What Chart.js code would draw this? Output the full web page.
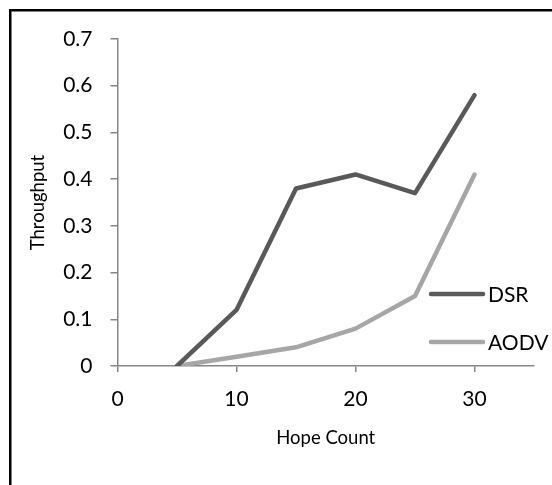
<!DOCTYPE html>
<html>
<head>
<meta charset="utf-8">
<script src="https://cdn.jsdelivr.net/npm/chart.js@4"></script>
<style>
  html, body { margin: 0; padding: 0; background: #fff; }
  #wrap { width: 552px; height: 485px; position: relative; }
</style>
</head>
<body>
<div id="wrap"><canvas id="chart" width="552" height="485"></canvas></div>
<script>
// ===== data =====
const hopCounts = [5, 10, 15, 20, 25, 30];
const dsrThroughput = [0, 0.12, 0.38, 0.41, 0.37, 0.58];
const aodvThroughput = [0, 0.02, 0.04, 0.08, 0.15, 0.41];
const seriesNames = ['DSR', 'AODV'];
const seriesColors = ['#595959', '#a6a6a6'];
const xTicks = [0, 10, 20, 30];

const FONT = 'Lato, "Open Sans", sans-serif';
const AXIS = '#868686';

function toPoints(ys) {
    return hopCounts.map((x, i) => ({ x: x, y: ys[i] }));
}

// frame (top + left only) and the legend sitting inside the plot
const decorPlugin = {
    id: 'decor',
    beforeDraw(chart) {
        const ctx = chart.ctx;
        ctx.save();
        ctx.fillStyle = '#000';
        ctx.fillRect(9, 9, 552 - 9, 2.5);
        ctx.fillRect(9, 9, 2.5, 485 - 9);
        ctx.restore();
    },
    afterDraw(chart) {
        const ctx = chart.ctx;
        const rows = [294, 342];
        ctx.save();
        seriesNames.forEach((name, i) => {
            ctx.strokeStyle = seriesColors[i];
            ctx.lineWidth = 4.5;
            ctx.lineCap = 'round';
            ctx.beginPath();
            ctx.moveTo(431, rows[i]);
            ctx.lineTo(483, rows[i]);
            ctx.stroke();
            ctx.fillStyle = '#000';
            ctx.font = '21px ' + FONT;
            ctx.textBaseline = 'middle';
            ctx.fillText(name, 488, rows[i] + 1);
        });
        ctx.restore();
    }
};

new Chart(document.getElementById('chart'), {
    type: 'line',
    data: {
        datasets: [
            { label: seriesNames[0], data: toPoints(dsrThroughput), borderColor: seriesColors[0] },
            { label: seriesNames[1], data: toPoints(aodvThroughput), borderColor: seriesColors[1] }
        ]
    },
    options: {
        responsive: false,
        animation: false,
        layout: { padding: { top: 39, right: 18, left: 0, bottom: 0 } },
        elements: {
            line: { borderWidth: 4.5, tension: 0, borderCapStyle: 'round', borderJoinStyle: 'round', fill: false },
            point: { radius: 0, hoverRadius: 0 }
        },
        plugins: { legend: { display: false }, tooltip: { enabled: false } },
        scales: {
            x: {
                type: 'linear',
                min: 0, max: 35,
                afterBuildTicks: s => { s.ticks = xTicks.map(v => ({ value: v })); },
                afterFit: s => { s.height = 119; },
                grid: { drawOnChartArea: false, color: AXIS, tickLength: 6, lineWidth: 1.5 },
                border: { color: AXIS, width: 1.5 },
                ticks: { color: '#000', font: { family: FONT, size: 21 }, padding: 15, maxRotation: 0 },
                title: { display: true, text: 'Hope Count', color: '#000', font: { family: FONT, size: 18.5 }, padding: { top: 0, bottom: 36 } }
            },
            y: {
                min: 0, max: 0.7,
                ticks: { stepSize: 0.1, color: '#000', font: { family: FONT, size: 21 }, padding: 18,
                         callback: v => (Math.round(v * 10) / 10).toString() },
                afterFit: s => { s.width = 117.5; },
                grid: { drawOnChartArea: false, color: AXIS, tickLength: 7, lineWidth: 1.5 },
                border: { color: AXIS, width: 1.5 },
                title: { display: true, text: 'Throughput', color: '#000', font: { family: FONT, size: 18.5 }, padding: { top: 27, bottom: 0 } }
            }
        }
    },
    plugins: [decorPlugin]
});
</script>
</body>
</html>
